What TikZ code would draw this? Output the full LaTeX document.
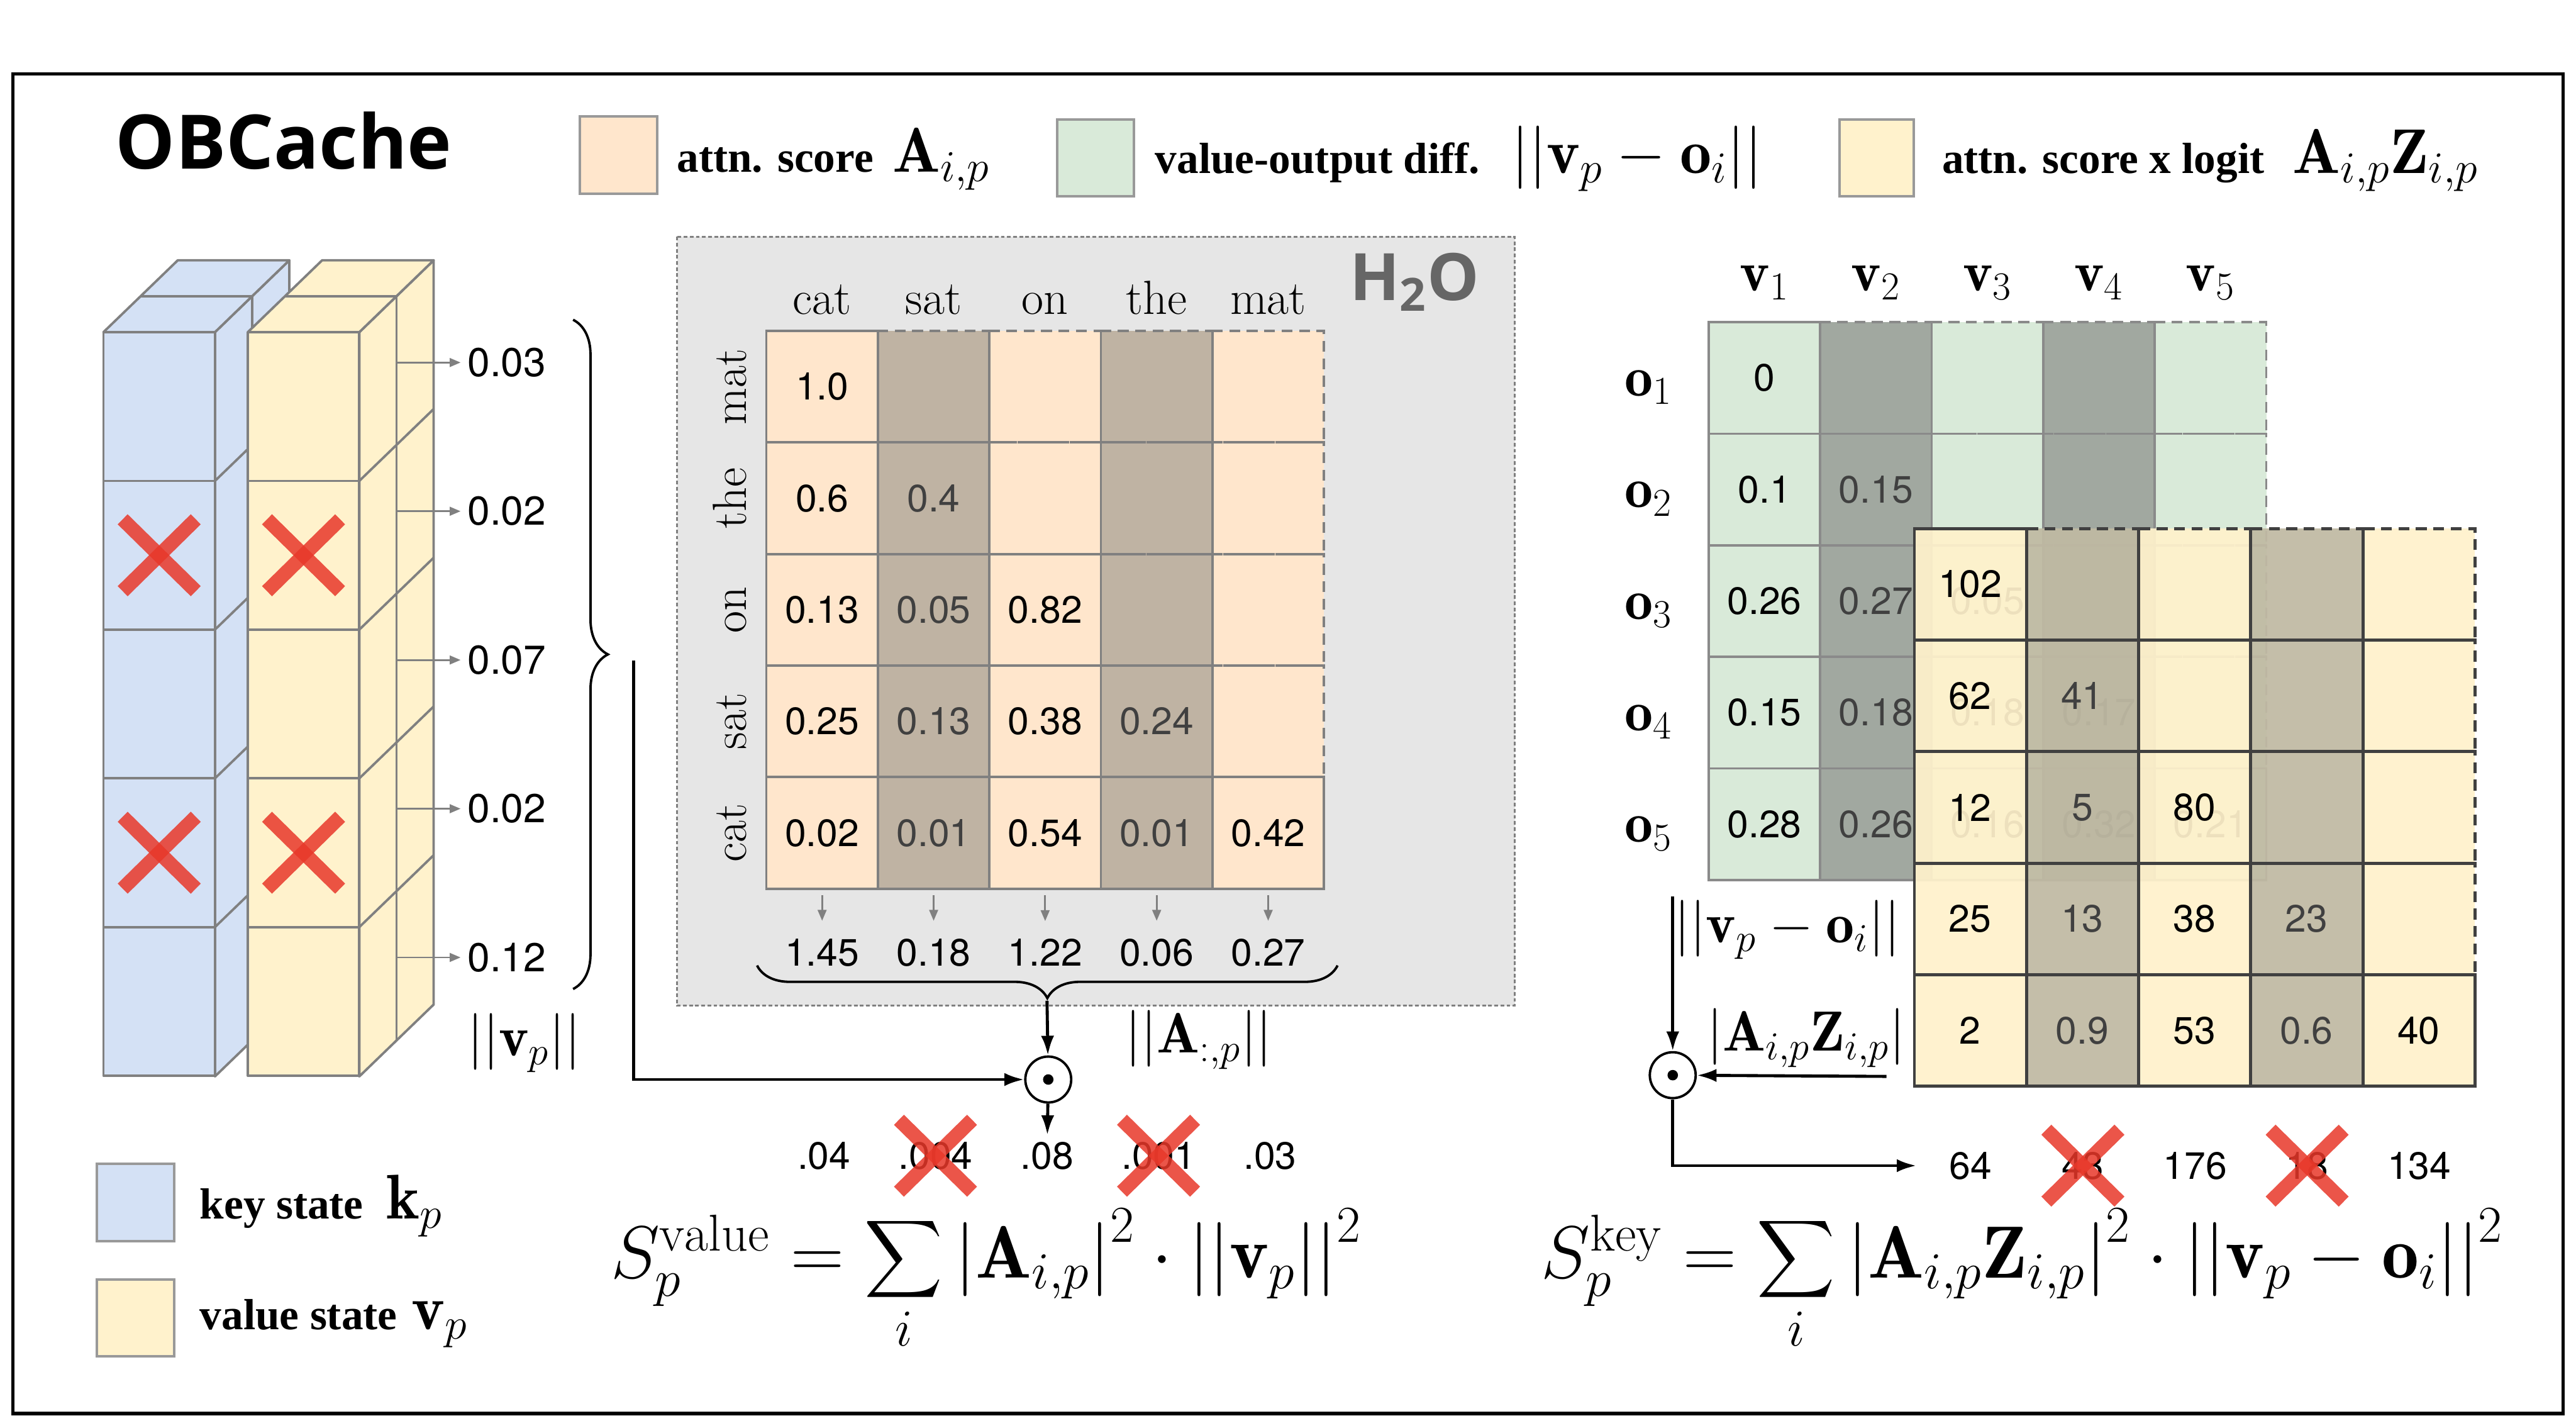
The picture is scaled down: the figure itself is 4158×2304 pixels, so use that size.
\RequirePackage{fix-cm}
\documentclass[tikz,border=0pt]{standalone}
\usepackage{exscale}
\usepackage{fontspec}
\newfontfamily\numfont{TeX Gyre Heros}
\newfontfamily\legfont{Liberation Serif}
\newfontfamily\headfont{Open Sans}
\usetikzlibrary{decorations.pathreplacing,arrows.meta}

\definecolor{keyblue}{HTML}{D4E1F5}
\definecolor{valyellow}{HTML}{FFF2CC}
\definecolor{attnpeach}{HTML}{FFE6CC}
\definecolor{difgreen}{HTML}{D9EAD9}
\definecolor{droptan}{HTML}{BFB3A3}
\definecolor{dropgreen}{HTML}{A1A8A0}
\definecolor{dropyellow}{HTML}{C0BAA3}
\definecolor{h2ogray}{HTML}{E6E6E6}
\definecolor{crossred}{HTML}{E8382A}
\definecolor{edgegray}{HTML}{808080}
\definecolor{lgray}{HTML}{999999}
\definecolor{darktxt}{HTML}{404040}

\tikzset{
  lgbox/.style={draw=lgray, line width=1.2pt},
  lgtext/.style={anchor=base west, inner sep=0pt, font=\legfont\bfseries\fontsize{20}{24}\selectfont},
  lgmath/.style={anchor=base west, inner sep=0pt, font=\fontsize{29}{32}\selectfont},
  mathlbl/.style={inner sep=0pt, font=\fontsize{26}{30}\selectfont},
  wordlbl/.style={inner sep=0pt, font=\fontsize{22}{26}\selectfont},
  num/.style={inner sep=0pt, font=\numfont\fontsize{17.5}{20}\selectfont},
  ltxt/.style={text=black},
  dtxt/.style={text=darktxt},
  kvedge/.style={draw=edgegray, line width=1.1pt, line join=round},
  h2oedge/.style={draw=edgegray, line width=1.1pt},
  greenedge/.style={draw=lgray!90!black, line width=1.1pt},
  yellowedge/.style={draw=darktxt, line width=1.4pt},
  absent/.style={dash pattern=on 5pt off 3pt},
  grayarrow/.style={draw=edgegray, line width=0.8pt, -{Triangle[length=5pt,width=4pt]}, edgegray},
  blackarrow/.style={line width=1.4pt, -{Latex[length=9pt,width=6pt]}},
  bracestyle/.style={decorate, line width=1.1pt},
  odotc/.style={circle, draw, line width=1.1pt, minimum size=0.74cm, inner sep=0pt},
  formula/.style={anchor=base west, inner sep=0pt, font=\fontsize{34}{38}\selectfont},
  crossline/.style={crossred, line width=6.5pt, opacity=0.85},
  redcross/.pic={
    \draw[crossline] (-59,-58) -- (59,58);
    \draw[crossline] (-59,58) -- (59,-58);
  }
}

\begin{document}
\begin{tikzpicture}[x=0.01cm,y=-0.01cm]
\useasboundingbox (0,0) rectangle (4158,2304);
\fill[white] (0,0) rectangle (4158,2304);
\draw[line width=1.5pt] (21,119) rectangle (4137,2281);

% title and legend
\node[anchor=base west, inner sep=0pt, font=\headfont\bfseries\fontsize{34.5}{38}\selectfont] (title) at (186,273) {OBCache};
\draw[lgbox, fill=attnpeach] (936,188) rectangle (1061,313);
\node[lgtext] (lga) at (1092,278) {attn. score};
\node[lgmath] (lgam) at (1440,278) {$\mathbf{A}_{i,p}$};
\draw[lgbox, fill=difgreen] (1706,193) rectangle (1830,317);
\node[lgtext] (lgd) at (1864,280) {value-output diff.};
\node[lgmath] (lgdm) at (2439,280) {$||\mathbf{v}_p - \mathbf{o}_i||$};
\draw[lgbox, fill=valyellow] (2969,193) rectangle (3089,317);
\node[lgtext] (lgz) at (3134,280) {attn. score x logit};
\node[lgmath] (lgzm) at (3700,280) {$\mathbf{A}_{i,p}\mathbf{Z}_{i,p}$};
\draw[lgbox, fill=keyblue] (156,1878) rectangle (281,2003);
\node[lgtext] (lgk) at (322,1967) {key state};
\node[lgmath] (lgkm) at (623,1967) {$\mathbf{k}_p$};
\draw[lgbox, fill=valyellow] (156,2065) rectangle (281,2189);
\node[lgtext] (lgv) at (322,2145) {value state};
\node[lgmath] (lgvm) at (664,2145) {$\mathbf{v}_p$};

% key / value cache columns
\foreach \cx/\cc in {167/keyblue,400/valyellow}{
  \filldraw[kvedge, fill=\cc] (\cx+180,536) -- (\cx+300,420) -- (\cx+300,1621) -- (\cx+180,1737) -- cycle;
  \filldraw[kvedge, fill=\cc] (\cx,536) -- (\cx+120,420) -- (\cx+300,420) -- (\cx+180,536) -- cycle;
  \draw[kvedge] (\cx+60,478) -- (\cx+240,478) -- (\cx+240,1679);
  \foreach \k in {1,...,4}
    \draw[kvedge] (\cx+180,536+240*\k) -- (\cx+300,420+240*\k);
  \foreach \k in {0,...,4}
    \filldraw[kvedge, fill=\cc] (\cx,536+240*\k) rectangle ++(180,240);
  \foreach \yy in {896,1376}
    \pic at (\cx+90,\yy) {redcross};
}

% value norms
\foreach \v [count=\k from 0] in {0.03,0.02,0.07,0.02,0.12}{
  \node[num, anchor=west, font=\numfont\fontsize{18.5}{21}\selectfont] (vn\k) at (754,585+240*\k) {\v};
  \coordinate (vs\k) at (641,585+240*\k);
  \draw[grayarrow, shorten >=3pt] (vs\k) -- (vn\k.west);
}
\draw[bracestyle, decoration={brace, amplitude=16pt}] (925,516) -- (925,1596);
\coordinate (vbr) at (1023,1066);
\node[mathlbl] (vnorm) at (846,1683) {$||\mathbf{v}_p||$};

% H2O attention matrix
\draw[fill=h2ogray, draw=edgegray, line width=0.9pt, dash pattern=on 1.7pt off 1.1pt] (1093,382) rectangle (2445,1623);
\node[anchor=base west, inner sep=0pt, text=black!60, font=\headfont\bfseries\fontsize{30}{34}\selectfont] (h2o) at (2178,485) {H\textsubscript{2}O};
\foreach \c/\col in {1/attnpeach,2/droptan,3/attnpeach,4/droptan,5/attnpeach}
  \fill[\col] (1057+180*\c,534) rectangle ++(180,900);
\foreach \r/\cs in {1/{2,3,4,5},2/{3,4,5},3/{4,5},4/{5}}
  \foreach \c in \cs
    \draw[h2oedge, absent] (1057+180*\c,354+180*\r) rectangle ++(180,180);
\foreach \r/\cs in {1/{1},2/{1,2},3/{1,2,3},4/{1,2,3,4},5/{1,2,3,4,5}}
  \foreach \c in \cs
    \draw[h2oedge] (1057+180*\c,354+180*\r) rectangle ++(180,180);
\foreach \r/\c/\v/\s in {1/1/1.0/ltxt, 2/1/0.6/ltxt, 2/2/0.4/dtxt, 3/1/0.13/ltxt, 3/2/0.05/dtxt, 3/3/0.82/ltxt,
    4/1/0.25/ltxt, 4/2/0.13/dtxt, 4/3/0.38/ltxt, 4/4/0.24/dtxt,
    5/1/0.02/ltxt, 5/2/0.01/dtxt, 5/3/0.54/ltxt, 5/4/0.01/dtxt, 5/5/0.42/ltxt}
  \node[num, \s] (a\r\c) at (1147+180*\c,444+180*\r) {\v};
\foreach \w [count=\c] in {cat,sat,on,the,mat}
  \node[wordlbl, anchor=base] (hc\c) at (1147+180*\c,507) {\w};
\foreach \w [count=\r] in {mat,the,on,sat,cat}
  \node[wordlbl, rotate=90, anchor=base] (hr\r) at (1204,444+180*\r) {\w};
\foreach \s [count=\c] in {1.45,0.18,1.22,0.06,0.27}{
  \node[num] (cs\c) at (1147+180*\c,1537) {\s};
  \coordinate (ct\c) at (1147+180*\c,1445);
  \draw[grayarrow, shorten >=8pt] (ct\c) -- (cs\c.north);
}
\draw[bracestyle, decoration={brace, amplitude=15pt}] (2159,1558) -- (1222,1558);
\coordinate (abr) at (1690,1615);
\node[mathlbl] (anorm) at (1935,1678) {$||\mathbf{A}_{:,p}||$};

% value score
\node[odotc] (od1) at (1692,1742) {};
\fill (od1.center) circle (2.4pt);
\draw[blackarrow] (abr) -- (od1);
\draw[blackarrow] (vbr) |- (od1);
\foreach \d [count=\c] in {.04,.004,.08,.001,.03}
  \node[num] (dp\c) at (1150+180*\c,1865) {\d};
\draw[blackarrow, shorten >=3pt] (od1) -- (dp3);
\pic at (dp2) {redcross};
\pic at (dp4) {redcross};
\node[formula] (sval) at (985,2062) {$S^{\mathrm{value}}_p = \displaystyle\sum_i \left|\mathbf{A}_{i,p}\right|^2 \cdot \left|\left|\mathbf{v}_p\right|\right|^2$};

% value-output difference matrix
\foreach \c/\col in {1/difgreen,2/dropgreen,3/difgreen,4/dropgreen,5/difgreen}
  \fill[\col] (2578+180*\c,520) rectangle ++(180,900);
\foreach \r/\cs in {1/{2,3,4,5},2/{3,4,5},3/{4,5},4/{5}}
  \foreach \c in \cs
    \draw[greenedge, absent] (2578+180*\c,340+180*\r) rectangle ++(180,180);
\foreach \r/\cs in {1/{1},2/{1,2},3/{1,2,3},4/{1,2,3,4},5/{1,2,3,4,5}}
  \foreach \c in \cs
    \draw[greenedge] (2578+180*\c,340+180*\r) rectangle ++(180,180);
\foreach \r/\c/\v/\s in {1/1/0/ltxt, 2/1/0.1/ltxt, 2/2/0.15/dtxt, 3/1/0.26/ltxt, 3/2/0.27/dtxt, 3/3/0.05/ltxt,
    4/1/0.15/ltxt, 4/2/0.18/dtxt, 4/3/0.18/ltxt, 4/4/0.17/dtxt,
    5/1/0.28/ltxt, 5/2/0.26/dtxt, 5/3/0.16/ltxt, 5/4/0.32/dtxt, 5/5/0.21/ltxt}
  \node[num, \s] (g\r\c) at (2668+180*\c,430+180*\r) {\v};
\foreach \c in {1,...,5}
  \node[mathlbl, anchor=base] (hv\c) at (2668+180*\c,470) {$\mathbf{v}_{\c}$};
\foreach \r in {1,...,5}
  \node[mathlbl, anchor=base west] (ho\r) at (2622,459+180*\r) {$\mathbf{o}_{\r}$};

% attention x logit matrix
\foreach \c/\col in {1/valyellow,2/dropyellow,3/valyellow,4/dropyellow,5/valyellow}
  \fill[\col, fill opacity=0.93] (2909+181*\c,853) rectangle ++(181,900);
\foreach \r/\cs in {1/{2,3,4,5},2/{3,4,5},3/{4,5},4/{5}}
  \foreach \c in \cs
    \draw[yellowedge, absent] (2909+181*\c,673+180*\r) rectangle ++(181,180);
\foreach \r/\cs in {1/{1},2/{1,2},3/{1,2,3},4/{1,2,3,4},5/{1,2,3,4,5}}
  \foreach \c in \cs
    \draw[yellowedge] (2909+181*\c,673+180*\r) rectangle ++(181,180);
\foreach \r/\c/\v/\s in {1/1/102/ltxt, 2/1/62/ltxt, 2/2/41/dtxt, 3/1/12/ltxt, 3/2/5/dtxt, 3/3/80/ltxt,
    4/1/25/ltxt, 4/2/13/dtxt, 4/3/38/ltxt, 4/4/23/dtxt,
    5/1/2/ltxt, 5/2/0.9/dtxt, 5/3/53/ltxt, 5/4/0.6/dtxt, 5/5/40/ltxt}
  \node[num, \s] (z\r\c) at (2999+181*\c,763+180*\r) {\v};

% key score
\node[odotc] (od2) at (2700,1735) {};
\fill (od2.center) circle (2.4pt);
\coordinate (dtop) at (2700,1447);
\coordinate (zin) at (3045,1737);
\draw[blackarrow] (dtop) -- (od2);
\draw[blackarrow] (zin) -- (od2);
\node[mathlbl] (dlbl) at (2885,1500) {$||\mathbf{v}_p - \mathbf{o}_i||$};
\node[mathlbl] (zlbl) at (2915,1675) {$|\mathbf{A}_{i,p}\mathbf{Z}_{i,p}|$};
\foreach \d [count=\c] in {64,43,176,18,134}
  \node[num] (kd\c) at (3000+181*\c,1881) {\d};
\draw[blackarrow, shorten >=15pt] (od2) |- (kd1);
\pic at (kd2) {redcross};
\pic at (kd4) {redcross};
\node[formula] (skey) at (2487,2062) {$S^{\mathrm{key}}_p = \displaystyle\sum_i \left|\mathbf{A}_{i,p}\mathbf{Z}_{i,p}\right|^2 \cdot \left|\left|\mathbf{v}_p - \mathbf{o}_i\right|\right|^2$};
\end{tikzpicture}
\end{document}
